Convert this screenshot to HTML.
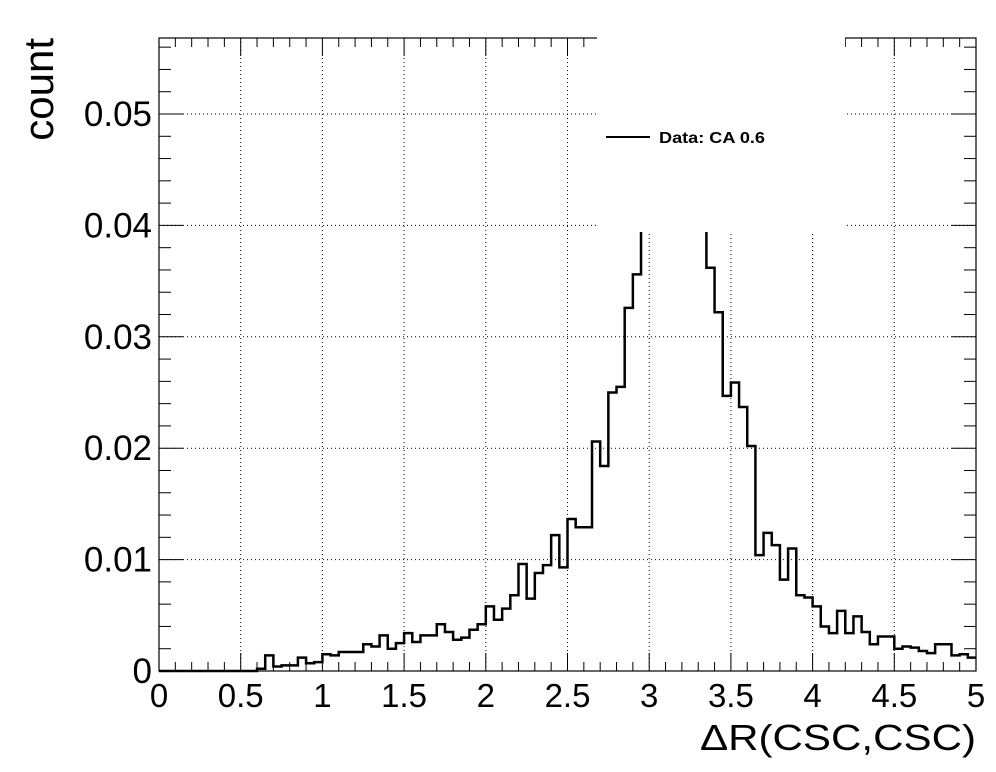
<!DOCTYPE html>
<html><head><meta charset="utf-8"><style>
html,body{margin:0;padding:0;background:#fff;}
svg{display:block;font-family:"Liberation Sans",Arial,sans-serif;}
</style></head><body>
<svg id="chart" width="996" height="772" viewBox="0 0 996 772" xmlns="http://www.w3.org/2000/svg">
<rect width="996" height="772" fill="#fff"/>
<g id="grid"></g>
<g id="hist"></g>
<g id="axes"></g>
<rect x="597" y="35" width="248" height="197" fill="#fff"/>
<g>
<line x1="606" y1="137" x2="650" y2="137" stroke="#000" stroke-width="2"/>
<text x="659" y="143" font-size="16" font-weight="bold" textLength="106" lengthAdjust="spacingAndGlyphs">Data: CA 0.6</text>
</g>
<text x="976" y="750" font-size="36" text-anchor="end" textLength="276" lengthAdjust="spacingAndGlyphs">ΔR(CSC,CSC)</text>
<text transform="translate(53,38) rotate(-90)" font-size="42" text-anchor="end">count</text>
</svg>
<script>
const binEdgesMin = 0, binWidth = 0.05;
const counts = [0,0,0,0,0,0,0,0,0,0,0,0,0.0002,0.0014,0.0004,0.0005,0.0005,0.0012,0.0007,0.0008,
0.0015,0.0014,0.0017,0.0017,0.0017,0.0024,0.0022,0.0032,0.002,0.0025,0.0034,0.0026,0.0032,0.0032,0.0042,0.0035,0.0028,0.003,0.0037,0.0042,
0.0058,0.0046,0.0056,0.0068,0.0096,0.0065,0.0088,0.0095,0.0122,0.0093,0.01365,0.0129,0.0129,0.0206,0.0184,0.025,0.0255,0.0326,0.0356,0.045,
0.048,0.051,0.053,0.052,0.05,0.047,0.042,0.0362,0.0322,0.0247,0.0259,0.0237,0.0202,0.0104,0.0124,0.0113,0.0082,0.011,0.0068,0.0066,
0.0058,0.004,0.0034,0.0054,0.0034,0.0049,0.0035,0.0024,0.0031,0.0031,0.002,0.0022,0.0021,0.0018,0.0016,0.0024,0.0024,0.0014,0.0015,0.0012];
const xTicks = [0,0.5,1,1.5,2,2.5,3,3.5,4,4.5,5];
const xTickLabels = ["0","0.5","1","1.5","2","2.5","3","3.5","4","4.5","5"];
const yTicks = [0,0.01,0.02,0.03,0.04,0.05];
const yTickLabels = ["0","0.01","0.02","0.03","0.04","0.05"];
const X0=159,X1=976,Y0=671,Y1=38,xMax=5,yMax=(671-38)/11140;
const sx=v=>X0+(v/xMax)*(X1-X0);
const sy=v=>Y0-(v/yMax)*(Y0-Y1);
const NS="http://www.w3.org/2000/svg";
function mk(tag,parent,attrs){const e=document.createElementNS(NS,tag);for(const k in attrs)e.setAttribute(k,attrs[k]);parent.appendChild(e);return e;}
const grid=document.getElementById('grid'),hist=document.getElementById('hist'),axes=document.getElementById('axes');
xTicks.forEach((t,i)=>{if(i>0&&i<xTicks.length-1){const l=mk('line',grid,{x1:sx(t),x2:sx(t),y1:Y1,y2:Y0,stroke:'#000','stroke-width':1,'stroke-dasharray':'1,3'});

}});
yTicks.forEach((t,i)=>{if(i>0){const l=mk('line',grid,{x1:X0,x2:X1,y1:sy(t),y2:sy(t),stroke:'#000','stroke-width':1,'stroke-dasharray':'1,3'});

}});
let d='M'+X0+','+Y0;
counts.forEach((c,i)=>{const xa=sx(binEdgesMin+i*binWidth),xb=sx(binEdgesMin+(i+1)*binWidth),y=Math.max(sy(c),Y1);d+=' L'+xa+','+y+' L'+xb+','+y;});
const p=mk('path',hist,{d:d,fill:'none',stroke:'#000','stroke-width':2.5});


const fr=mk('rect',axes,{x:X0,y:Y1,width:X1-X0,height:Y0-Y1,fill:'none',stroke:'#000','stroke-width':1.2});


for(let k=0;k<=50;k++){const x=sx(k*0.1),len=(k%5===0)?18:9;
mk('line',axes,{x1:x,x2:x,y1:Y0,y2:Y0-len,stroke:'#000','stroke-width':1});
mk('line',axes,{x1:x,x2:x,y1:Y1,y2:Y1+len,stroke:'#000','stroke-width':1});}
for(let k=0;k*0.002<=yMax;k++){const y=sy(k*0.002),len=(k%5===0)?24:12;
mk('line',axes,{x1:X0,x2:X0+len,y1:y,y2:y,stroke:'#000','stroke-width':1});
mk('line',axes,{x1:X1,x2:X1-len,y1:y,y2:y,stroke:'#000','stroke-width':1});}
xTicks.forEach((t,i)=>{const tx=mk('text',axes,{x:sx(t),y:707,'font-size':33,'text-anchor':'middle'});tx.textContent=xTickLabels[i];

});
yTicks.forEach((t,i)=>{const tx=mk('text',axes,{x:152,y:sy(t)+12,'font-size':35,'text-anchor':'end'});tx.textContent=yTickLabels[i];

});
</script>
</body></html>
